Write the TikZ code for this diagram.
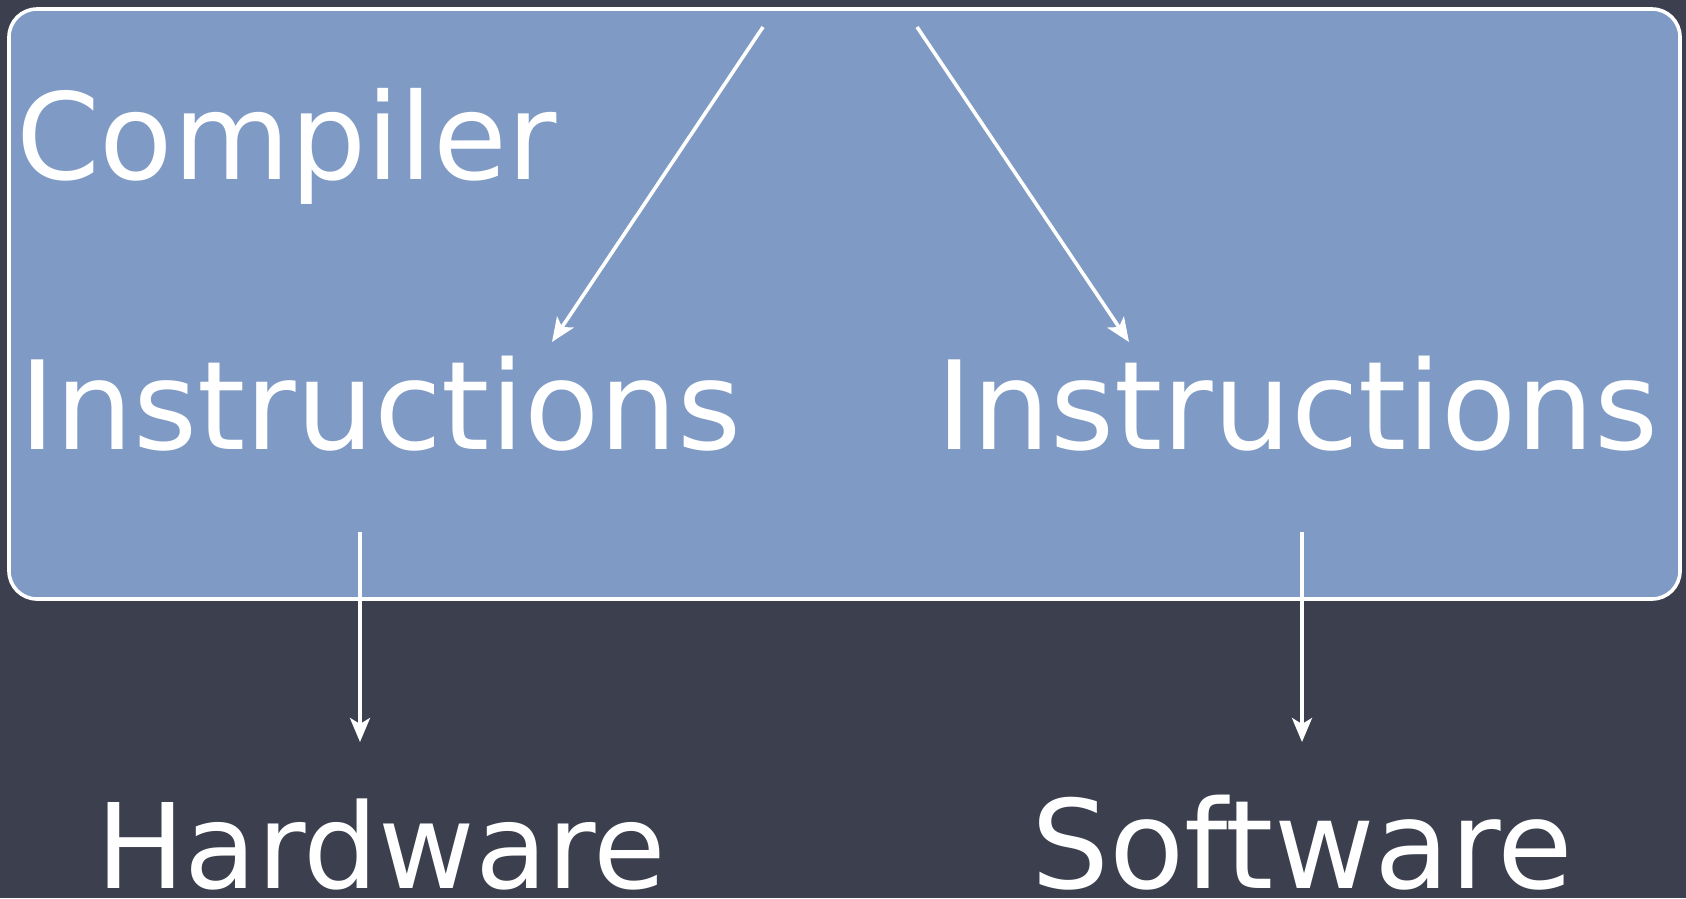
\documentclass[tikz,border=0pt]{standalone}
\usepackage{fontspec}
\setmainfont{DejaVu Sans}
\usetikzlibrary{arrows.meta}
\definecolor{board}{RGB}{60,64,78}
\definecolor{panel}{RGB}{127,154,196}
\begin{document}
\begin{tikzpicture}[x=1pt,y=-1pt,
  lbl/.style={text=white, inner sep=0pt, font=\fontsize{120}{140}\selectfont, anchor=base west},
  arr/.style={white, line width=3.6pt, -{Stealth[length=24pt,width=20pt,inset=6pt]}}]
\fill[board] (0,0) rectangle (1686,898);
\useasboundingbox (0,0) rectangle (1686,898);
\node[draw=white, line width=3.6pt, fill=panel, rounded corners=28pt,
      minimum width=1671pt, minimum height=590pt, inner sep=0pt] (box) at (844.5,304) {};
\node[lbl] (comp) at (16,179) {Compiler};
\node[lbl, font=\fontsize{123}{140}\selectfont] (ins1) at (19,449) {Instructions};
\node[lbl, font=\fontsize{123}{140}\selectfont] (ins2) at (936,449) {Instructions};
\node[lbl, font=\fontsize{118}{140}\selectfont] (hw) at (96,888) {Hardware};
\node[lbl, font=\fontsize{123}{140}\selectfont] (sw) at (1031,888) {Software};
\coordinate (s1) at (763,27); \coordinate (e1) at (552,342);
\coordinate (s2) at (917,27); \coordinate (e2) at (1129,342);
\coordinate (s3) at (360,532); \coordinate (e3) at (360,742);
\coordinate (s4) at (1302,532); \coordinate (e4) at (1302,742);
\draw[arr] (s1) -- (e1);
\draw[arr] (s2) -- (e2);
\draw[arr] (s3) -- (e3);
\draw[arr] (s4) -- (e4);
\end{tikzpicture}
\end{document}
